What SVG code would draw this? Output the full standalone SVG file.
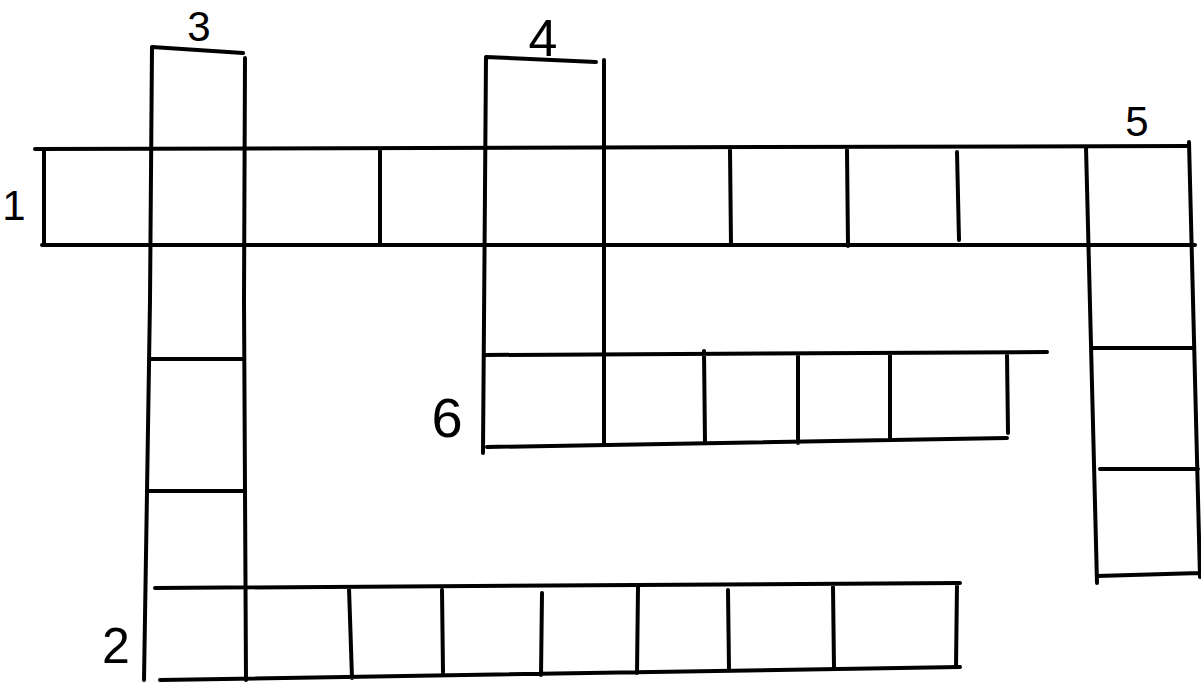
<svg xmlns="http://www.w3.org/2000/svg" width="1201" height="683" viewBox="0 0 1201 683">
<style>
.ln{fill:none;stroke:#000;stroke-width:4;stroke-linecap:round;stroke-linejoin:round}
.lbl{font-family:"Liberation Sans",Arial,sans-serif;fill:#000;text-anchor:middle}
</style>
<rect width="1201" height="683" fill="#fff"/>
<g id="entry-1">
<path class="ln" d="M35,149 L1189,146 M42,245 L1195,245 M44,149 L44,245 M380,150 L380,245 M730,150 L731,245 M847,150 L848,246 M957,152 L959,240"/>
<text class="lbl" x="14" y="220" font-size="42">1</text>
</g>
<g id="entry-3">
<path class="ln" d="M152,47 L243,53 M152,47 L150,300 L147,492 L144,680 M245,58 L244,300 L246,680 M150,359 L243,359 M147,491 L243,491"/>
<text class="lbl" x="199" y="41" font-size="42">3</text>
</g>
<g id="entry-2">
<path class="ln" d="M155,588 L960,583 M160,680 L960,667 M349,588 L352,678 M442,590 L443,672 M542,593 L541,675 M638,587 L637,673 M728,590 L729,670 M833,587 L834,668 M957,584 L956,667"/>
<text class="lbl" x="116" y="663" font-size="50">2</text>
</g>
<g id="entry-4">
<path class="ln" d="M486,57 L596,62 M486,57 L483,453 M604,60 L604,445"/>
<text class="lbl" x="543" y="56" font-size="52">4</text>
</g>
<g id="entry-6">
<path class="ln" d="M485,355 L1047,352 M487,447 L1007,438 M704,351 L705,443 M798,355 L798,443 M890,355 L890,438 M1007,355 L1008,433"/>
<text class="lbl" x="447" y="437" font-size="56">6</text>
</g>
<g id="entry-5">
<path class="ln" d="M1086,147 L1097,583 M1189,142 L1200,577 M1092,348 L1193,348 M1100,469 L1198,469 M1097,576 L1200,573"/>
<text class="lbl" x="1137" y="136" font-size="42">5</text>
</g>
<g id="connectors"></g>
</svg>
